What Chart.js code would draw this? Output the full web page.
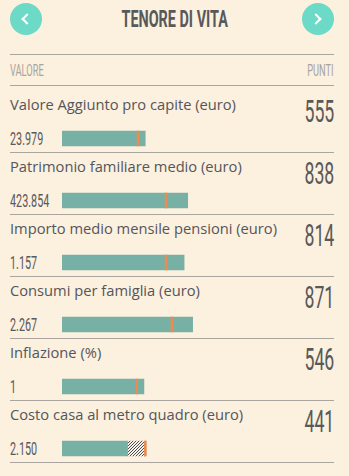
<!DOCTYPE html>
<html>
<head>
<meta charset="utf-8">
<script src="https://cdn.jsdelivr.net/npm/chart.js@4"></script>
<style>
  html, body { margin: 0; padding: 0; }
  body { width: 349px; height: 476px; overflow: hidden; position: relative; background: #fcf0df; }
  .abs { position: absolute; white-space: nowrap; line-height: 1; }
  .cond { font-family: Roboto, sans-serif; display: inline-block; }
  .rule { position: absolute; left: 10px; width: 324px; height: 1px; background: #aaa59e; }
  .btn { position: absolute; top: 3px; width: 32px; height: 32px; border-radius: 50%; background: #6dd9c7; }
  .chev { position: absolute; top: 12px; width: 6px; height: 6px; border-left: 2.5px solid #fff; border-bottom: 2.5px solid #fff; }
  .label { font-family: "Open Sans", sans-serif; font-size: 14.7px; color: #55565a; left: 10px; }
  #bars { position: absolute; left: 62px; top: 107px; }
</style>
</head>
<body>
<div class="btn" style="left:10px"><div class="chev" style="left:13px;transform:rotate(45deg)"></div></div>
<div class="btn" style="left:302px"><div class="chev" style="left:10px;transform:rotate(-135deg)"></div></div>
<div class="abs" style="left:0;width:349px;top:7px;text-align:center">
  <span class="cond" style="font-size:24px;font-weight:700;color:#58595b;transform:scaleX(0.6)">TENORE DI VITA</span>
</div>
<div class="rule" style="top:54px"></div>
<div class="abs" style="left:10px;top:63px"><span class="cond" style="font-size:16px;color:#a7a39d;transform:scaleX(0.58);transform-origin:left">VALORE</span></div>
<div class="abs" style="right:15px;top:63px"><span class="cond" style="font-size:16px;color:#a7a39d;transform:scaleX(0.58);transform-origin:right">PUNTI</span></div>
<div class="rule" style="top:85px"></div>
<div id="rows"></div>
<canvas id="bars" width="270" height="373"></canvas>

<script>
// Tenore di vita: valore, punti e media di riferimento
const voci = [
  'Valore Aggiunto pro capite (euro)',
  'Patrimonio familiare medio (euro)',
  'Importo medio mensile pensioni (euro)',
  'Consumi per famiglia (euro)',
  'Inflazione (%)',
  'Costo casa al metro quadro (euro)'
];
const valori = ['23.979', '423.854', '1.157', '2.267', '1', '2.150'];
const punti = [555, 838, 814, 871, 546, 441];
const media = [507, 694, 694, 733, 498, 556];

function renderRows() {
  const rows = document.getElementById('rows');
  rows.innerHTML = voci.map((v, i) => {
    const y = 62 * i;
    return `<div class="abs label" style="top:${97 + y}px">${v}</div>
      <div class="abs" style="right:15px;top:${96 + y}px"><span class="cond" style="font-size:31px;color:#58595b;transform:scaleX(0.57);transform-origin:right">${punti[i]}</span></div>
      <div class="abs" style="left:10px;top:${130 + y}px"><span class="cond" style="font-size:18px;color:#58595b;transform:scaleX(0.6);transform-origin:left">${valori[i]}</span></div>
      <div class="rule" style="top:${152 + y}px"></div>`;
  }).join('');
}

function hatchPattern() {
  const c = document.createElement('canvas');
  c.width = 3; c.height = 3;
  const g = c.getContext('2d');
  g.fillStyle = '#f6f1ea';
  g.fillRect(0, 0, 3, 3);
  g.fillStyle = '#4d4d4d';
  g.fillRect(2, 0, 1, 1);
  g.fillRect(1, 1, 1, 1);
  g.fillRect(0, 2, 1, 1);
  return g.createPattern(c, 'repeat');
}

function renderBars() {
  const gap = media.map((m, i) => m > punti[i] ? [punti[i], m] : null);
  const marker = media.map(m => [m - 6.5, m + 6.5]);
  new Chart(document.getElementById('bars'), {
    type: 'bar',
    data: {
      labels: voci,
      datasets: [
        { label: 'Media', data: marker, backgroundColor: '#ec8a4f' },
        { label: 'Scarto', data: gap, backgroundColor: hatchPattern() },
        { label: 'Punti', data: punti, backgroundColor: '#77b1a6' }
      ]
    },
    options: {
      indexAxis: 'y',
      responsive: false,
      animation: false,
      layout: { padding: { top: 0.5, bottom: 0.5, left: 0, right: 0 } },
      datasets: { bar: { barThickness: 15, grouped: false, borderWidth: 0 } },
      plugins: { legend: { display: false }, tooltip: { enabled: false } },
      scales: {
        x: { display: false, min: 0, max: 1800 },
        y: { display: false }
      }
    }
  });
}

renderRows();
renderBars();
</script>
</body>
</html>
